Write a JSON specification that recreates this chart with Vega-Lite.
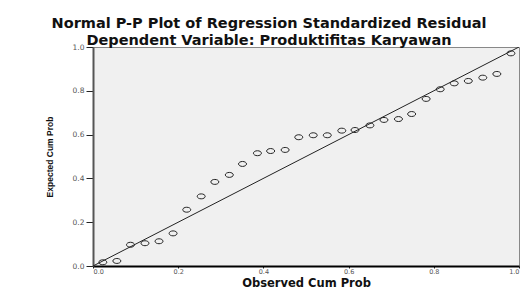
{
  "$schema": "https://vega.github.io/schema/vega-lite/v6.json",
  "autosize": {"type": "none"},
  "width": 426,
  "height": 219,
  "padding": {"left": 93, "top": 47, "right": 8, "bottom": 25},
  "background": "white",
  "title": {
    "text": "Normal P-P Plot of Regression Standardized Residual",
    "subtitle": "Dependent Variable: Produktifitas Karyawan",
    "font": "DejaVu Sans",
    "fontSize": 14.5,
    "fontWeight": "bold",
    "color": "#111111",
    "subtitleFont": "DejaVu Sans",
    "subtitleFontSize": 14.5,
    "subtitleFontWeight": "bold",
    "subtitleColor": "#111111",
    "subtitlePadding": 2,
    "anchor": "middle",
    "dx": -37,
    "offset": -5
  },
  "config": {
    "view": {"fill": "#f0f0f0", "stroke": "#888888", "strokeWidth": 1},
    "axis": {
      "grid": false,
      "labelFont": "DejaVu Sans",
      "labelFontSize": 7.5,
      "labelColor": "#555555",
      "domainColor": "#222222",
      "domainWidth": 2,
      "tickColor": "#222222",
      "titleFontWeight": "bold",
      "titleColor": "#111111"
    }
  },
  "layer": [
    {
      "data": {"values": [{"p": 0}, {"p": 1}]},
      "mark": {"type": "line", "color": "#222222", "strokeWidth": 1, "clip": true},
      "encoding": {
        "x": {"field": "p", "type": "quantitative"},
        "y": {"field": "p", "type": "quantitative"}
      }
    },
    {
      "data": {
        "values": [
          {"observed": 0.023, "expected": 0.017},
          {"observed": 0.056, "expected": 0.023},
          {"observed": 0.088, "expected": 0.097},
          {"observed": 0.122, "expected": 0.104},
          {"observed": 0.155, "expected": 0.113},
          {"observed": 0.188, "expected": 0.149},
          {"observed": 0.220, "expected": 0.257},
          {"observed": 0.254, "expected": 0.318},
          {"observed": 0.286, "expected": 0.384},
          {"observed": 0.320, "expected": 0.416},
          {"observed": 0.351, "expected": 0.466},
          {"observed": 0.386, "expected": 0.515},
          {"observed": 0.417, "expected": 0.525},
          {"observed": 0.451, "expected": 0.530},
          {"observed": 0.483, "expected": 0.588},
          {"observed": 0.517, "expected": 0.597},
          {"observed": 0.550, "expected": 0.597},
          {"observed": 0.584, "expected": 0.618},
          {"observed": 0.615, "expected": 0.621},
          {"observed": 0.650, "expected": 0.642},
          {"observed": 0.683, "expected": 0.667},
          {"observed": 0.717, "expected": 0.671},
          {"observed": 0.748, "expected": 0.694},
          {"observed": 0.782, "expected": 0.763},
          {"observed": 0.815, "expected": 0.807},
          {"observed": 0.848, "expected": 0.834},
          {"observed": 0.881, "expected": 0.845},
          {"observed": 0.915, "expected": 0.860},
          {"observed": 0.948, "expected": 0.877},
          {"observed": 0.981, "expected": 0.971}
        ]
      },
      "mark": {
        "type": "point",
        "shape": "M-1,0A1,0.62,0,1,1,1,0A1,0.62,0,1,1,-1,0Z",
        "size": 64,
        "filled": false,
        "stroke": "#222222",
        "strokeWidth": 1,
        "opacity": 1
      },
      "encoding": {
        "x": {
          "field": "observed",
          "type": "quantitative",
          "scale": {"domain": [0, 1], "nice": false},
          "axis": {
            "title": "Observed Cum Prob",
            "titleFont": "DejaVu Sans",
            "titleFontSize": 11.5,
            "titlePadding": 3,
            "labelFontSize": 6.5,
            "values": [0, 0.2, 0.4, 0.6, 0.8, 1],
            "format": ".1f",
            "tickSize": 2,
            "labelPadding": 0,
            "domainColor": "#000000"
          }
        },
        "y": {
          "field": "expected",
          "type": "quantitative",
          "scale": {"domain": [0, 1], "nice": false},
          "axis": {
            "title": "Expected Cum Prob",
            "titleFont": "Liberation Sans",
            "titleFontSize": 8.5,
            "titlePadding": 18,
            "values": [0, 0.2, 0.4, 0.6, 0.8, 1],
            "format": ".1f",
            "tickSize": 7,
            "labelPadding": 2,
            "domainColor": "#555555"
          }
        }
      }
    }
  ]
}
